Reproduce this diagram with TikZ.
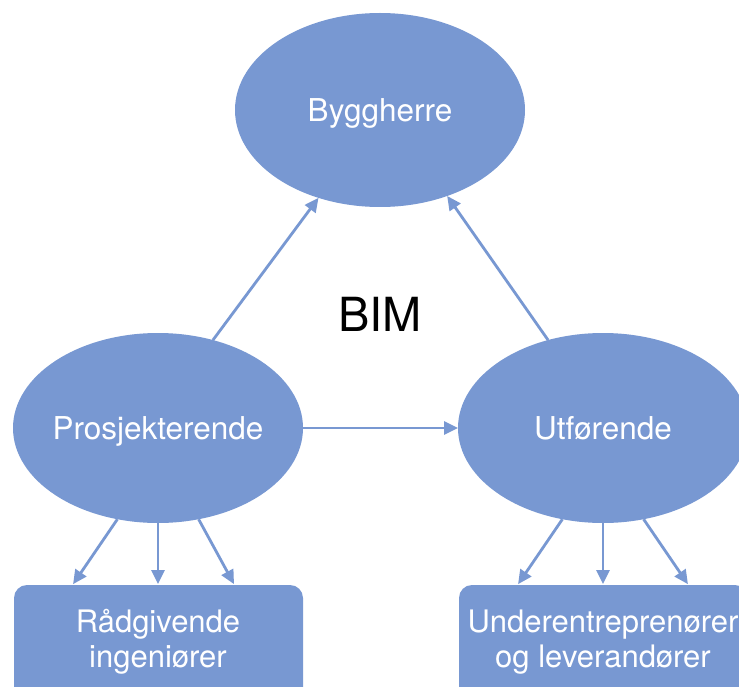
\documentclass[tikz,border=0pt]{standalone}
\usepackage{fontspec}
\setmainfont{TeX Gyre Heros}
\usetikzlibrary{shapes.geometric,arrows.meta,calc}
\definecolor{roleblue}{RGB}{120,152,210}
\tikzset{
  role/.style={ellipse, fill=roleblue, draw=none, inner sep=-12pt, outer sep=0pt,
    minimum width=290pt, minimum height=194pt, text=white, text depth=0pt,
    font=\fontsize{31.5}{36}\selectfont},
  group/.style={rectangle, rounded corners=13pt, fill=roleblue, draw=none,
    inner sep=0pt, outer sep=0pt, minimum width=289pt, minimum height=120pt},
  grouplabel/.style={text=white, align=center, anchor=base, inner sep=0pt,
    font=\fontsize{31}{35}\selectfont},
  link/.style={draw=roleblue, line width=2.8pt,
    -{Triangle[length=14pt,width=13pt]}},
}
\begin{document}
\begin{tikzpicture}[x=1pt,y=-1pt]
  \clip (0,0) rectangle (739,687);
  \fill[white] (0,0) rectangle (739,687);

  % the three parties
  \node[role] (b) at (380,110) {Byggherre};
  \node[role, minimum height=190pt] (p) at (158,428) {Prosjekterende};
  \node[role, minimum height=190pt] (u) at (603,428) {Utførende};

  % sub-contracted groups
  \node[group] (r) at (158.5,645) {};
  \node[group] (s) at (603.5,645) {};
  \node[grouplabel] (rt) at (158,667) {Rådgivende\\ingeniører};
  \node[grouplabel] (st) at (603,667) {Underentreprenører\\og leverandører};

  \node[font=\fontsize{47}{47}\selectfont, text depth=0pt] (bim) at (380,314) {BIM};

  % information flow
  \draw[link] (p.58) -- (b.-125.6);
  \draw[link] (u.122) -- (b.-52.7);
  \draw[link] (p.east) -- (u.west);

  \draw[link, shorten >=1pt] (p.-114) -- ($(r.north)+(-86,0)$);
  \draw[link, shorten >=1pt] (p.south) -- (p.south |- r.north);
  \draw[link, shorten >=1pt] (p.-66) -- ($(r.north)+(76,0)$);

  \draw[link, shorten >=1pt] (u.-114) -- ($(s.north)+(-86,0)$);
  \draw[link, shorten >=1pt] (u.south) -- (u.south |- s.north);
  \draw[link, shorten >=1pt] (u.-66) -- ($(s.north)+(85,0)$);
\end{tikzpicture}
\end{document}
